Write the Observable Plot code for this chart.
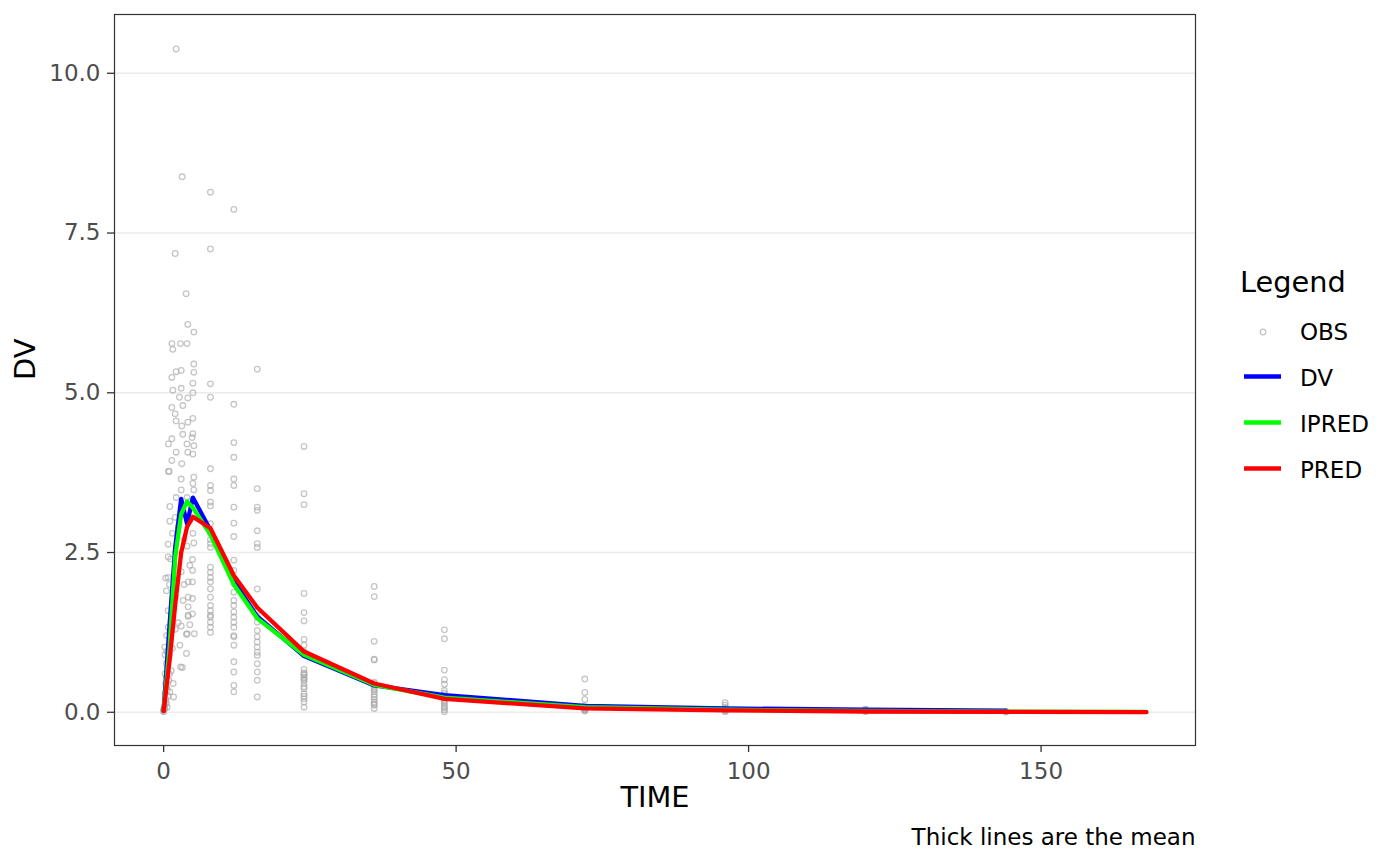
<!DOCTYPE html>
<html>
<head>
<meta charset="utf-8">
<script src="https://cdn.jsdelivr.net/npm/d3@7"></script>
<script src="https://cdn.jsdelivr.net/npm/@observablehq/plot@0.6"></script>
<style>
  body { margin: 0; background: #fff; }
  #wrap { position: relative; width: 1400px; height: 866px; }
  #legend { position: absolute; left: 0; top: 0; pointer-events: none; }
</style>
</head>
<body>
<div id="wrap">
  <div id="chart"></div>
  <svg id="legend" width="1400" height="866"></svg>
</div>
<script>
// ---------------------------------------------------------------
//  Observations (grey open circles)
// ---------------------------------------------------------------
// absorption phase, actual sampling times
const earlyTime = [
  2.14, 3.16, 1.97, 3.85, 4.13, 5.16, 1.4, 1.57, 2.87, 4.0, 5.16, 2.14, 3.0, 5.16, 1.4,
  5.0, 1.57, 3.0, 5.0, 2.7, 4.13, 1.4, 3.28, 1.97, 5.0, 2.14, 3.1, 4.13, 5.0, 3.28,
  4.87, 1.4, 4.0, 5.16, 0.82, 2.14, 4.13, 5.0, 1.4, 3.1, 0.82, 0.95, 3.0, 5.16, 5.0,
  3.0, 5.16, 2.14, 4.0,
  1.06, 1.06, 0.77, 0.77, 5.16, 4.93, 4.47, 4.93, 4.19, 4.93, 0.77, 4.19, 4.93, 3.33,
  4.19, 4.93, 4.19, 4.02, 3.9, 5.24, 3.9, 2.77, 2.9, 0.48, 1.62, 1.06, 1.7, 0.48, 0.6,
  0.2, 0.48, 0.2, 0.77, 0.77, 0.48, 0.34, 4.19, 4.47,
  2.0, 2.5, 3.5, 4.5, 5.0, 4.0, 1.5, 2.0, 3.0, 4.5, 1.2, 1.0, 1.5, 1.2, 2.0, 3.0, 3.5,
  2.5, 0.5, 0.25, 0.25, 0.5, 1.0, 0.3, 0.1, 0.15, 0.75, 1.0, 1.5, 2.0, 0.25, 0, 0, 0,
  3.0, 3.2, 0.6, 0.4, 0.9, 0.35, 0.55, 1.3
];
const earlyDV = [
  10.38, 8.38, 7.18, 6.55, 6.07, 5.95, 5.77, 5.68, 5.77, 5.77, 5.45, 5.33, 5.35, 5.32, 5.24,
  5.15, 5.04, 5.07, 5.0, 4.93, 4.92, 4.77, 4.80, 4.67, 4.60, 4.56, 4.48, 4.54, 4.36, 4.35,
  4.30, 4.28, 4.20, 4.17, 4.20, 4.07, 4.07, 4.04, 3.94, 3.89, 3.77, 3.77, 3.65, 3.68, 3.58,
  3.48, 3.48, 3.36, 3.36,
  3.22, 2.99, 2.63, 2.43, 2.65, 2.39, 2.30, 2.22, 2.04, 2.04, 2.11, 1.80, 1.78, 1.75,
  1.65, 1.54, 1.52, 1.23, 1.22, 1.23, 0.92, 1.05, 0.71, 0.55, 0.45, 0.32, 0.24, 0.14, 0.08,
  0.06, 0.76, 1.02, 1.33, 1.59, 1.90, 2.10, 1.50, 1.37,
  3.05, 2.90, 2.70, 3.00, 2.80, 2.60, 2.80, 2.50, 3.20, 3.30, 2.40, 2.00, 1.60, 1.20, 1.80, 2.20, 2.00,
  1.40, 1.20, 0.60, 0.30, 0.40, 0.90, 0.15, 0.05, 0.10, 0.25, 0.60, 1.00, 1.30, 0.90, 0.02, 0.05, 0.01,
  1.35, 0.70, 0.35, 0.20, 0.50, 0.45, 0.95, 0.65
];

// later samples at nominal times
const obsAt8   = [8.14, 7.25, 5.14, 4.93, 3.81, 3.55, 3.47, 3.29, 3.23, 2.95, 2.80, 2.70, 2.64, 2.58,
                  2.27, 2.19, 2.11, 2.04, 1.93, 1.80, 1.67, 1.59, 1.52, 1.49, 1.41, 1.33, 1.25];
const obsAt12  = [7.87, 4.82, 4.22, 3.99, 3.65, 3.55, 3.21, 2.96, 2.75, 2.38, 2.22, 2.01, 1.88, 1.75,
                  1.67, 1.57, 1.49, 1.41, 1.33, 1.20, 1.18, 1.05, 0.79, 0.63, 0.42, 0.32];
const obsAt16  = [5.37, 3.50, 3.21, 3.16, 2.84, 2.64, 2.58, 1.93, 1.59, 1.49, 1.41, 1.28, 1.18, 1.10,
                  1.02, 0.94, 0.89, 0.76, 0.63, 0.50, 0.24];
const obsAt24  = [4.16, 3.42, 3.25, 1.86, 1.56, 1.43, 1.14, 1.05, 0.95, 0.67, 0.62, 0.60, 0.58, 0.55,
                  0.52, 0.50, 0.45, 0.40, 0.37, 0.29, 0.25, 0.21, 0.16, 0.08];
const obsAt36  = [1.97, 1.81, 1.11, 0.83, 0.82, 0.47, 0.45, 0.42, 0.38, 0.35, 0.32, 0.28, 0.24, 0.20,
                  0.16, 0.13, 0.11, 0.06];
const obsAt48  = [1.29, 1.15, 0.66, 0.51, 0.44, 0.34, 0.30, 0.27, 0.24, 0.20, 0.17, 0.14, 0.10, 0.07,
                  0.04, 0.01];
const obsAt72  = [0.52, 0.31, 0.20, 0.10, 0.08, 0.06, 0.05, 0.04, 0.03, 0.02];
const obsAt96  = [0.15, 0.11, 0.07, 0.05, 0.03, 0.02, 0.01];
const obsAt120 = [0.05, 0.04, 0.03, 0.02, 0.01];
const obsAt144 = [0.01, 0.005];

// ---------------------------------------------------------------
//  Mean curves (thick lines)
// ---------------------------------------------------------------
const dvTime    = [0, 1, 2, 3, 4, 5, 8, 12, 16, 24, 36, 48, 72, 96, 120, 144];
const dvMean    = [0.03, 1.35, 2.6, 3.34, 2.95, 3.36, 2.85, 2.05, 1.5, 0.88, 0.42, 0.27, 0.1, 0.06, 0.04, 0.025];
const predTime  = [0, 1, 2, 3, 4, 5, 8, 12, 16, 24, 36, 48, 72, 96, 120, 144, 168];
const ipredMean = [0.03, 1.0, 2.45, 3.1, 3.3, 3.2, 2.78, 2.0, 1.47, 0.9, 0.43, 0.23, 0.08, 0.04, 0.02, 0.01, 0.005];
const predMean  = [0.02, 0.8, 1.7, 2.5, 2.9, 3.06, 2.88, 2.14, 1.64, 0.95, 0.45, 0.21, 0.06, 0.03, 0.012, 0.005, 0.002];

const xTicks = [0, 50, 100, 150];
const yTicks = [0, 2.5, 5, 7.5, 10];

const LEGEND = [
  { key: "OBS",   color: "#a8a8a8", kind: "dot"  },
  { key: "DV",    color: "#0000ff", kind: "line" },
  { key: "IPRED", color: "#00ff00", kind: "line" },
  { key: "PRED",  color: "#ff0000", kind: "line" }
];

const FONT = "DejaVu Sans, sans-serif";

// ---------------------------------------------------------------
//  Tables for Plot
// ---------------------------------------------------------------
const obs = earlyTime.map((t, i) => ({ time: t, dv: earlyDV[i] }));
[[8, obsAt8], [12, obsAt12], [16, obsAt16], [24, obsAt24], [36, obsAt36], [48, obsAt48],
 [72, obsAt72], [96, obsAt96], [120, obsAt120], [144, obsAt144]].forEach(([t, vals]) => {
  vals.forEach(v => obs.push({ time: t, dv: v }));
});

const dvLine    = dvTime.map((t, i) => ({ time: t, value: dvMean[i] }));
const ipredLine = predTime.map((t, i) => ({ time: t, value: ipredMean[i] }));
const predLine  = predTime.map((t, i) => ({ time: t, value: predMean[i] }));

// ---------------------------------------------------------------
//  Chart
// ---------------------------------------------------------------
const chart = Plot.plot({
  width: 1400,
  height: 866,
  marginLeft: 114,
  marginRight: 205,
  marginTop: 14,
  marginBottom: 121,
  style: { fontFamily: FONT, fontSize: "23px", background: "#fff", overflow: "visible" },
  x: { domain: [-8.4, 176.4], label: null },
  y: { domain: [-0.52, 10.92], label: null },
  marks: [
    Plot.gridY(yTicks, { stroke: "#ebebeb", strokeOpacity: 1, strokeWidth: 1.5 }),
    Plot.dot(obs, {
      x: "time", y: "dv", r: 2.8, fill: "none",
      stroke: "#a8a8a8", strokeOpacity: 0.65, strokeWidth: 1.3
    }),
    Plot.line(dvLine,    { x: "time", y: "value", stroke: "#0000ff", strokeWidth: 4.3 }),
    Plot.line(ipredLine, { x: "time", y: "value", stroke: "#00ff00", strokeWidth: 4.3 }),
    Plot.line(predLine,  { x: "time", y: "value", stroke: "#ff0000", strokeWidth: 4.3 }),
    Plot.frame({ stroke: "#333", strokeWidth: 1.2 }),
    Plot.axisX({ ticks: xTicks, tickSize: 7, tickPadding: 10, stroke: "#333", strokeWidth: 1.3,
                 fill: "#4d4d4d", label: null }),
    Plot.axisY({ ticks: yTicks, tickSize: 7, tickPadding: 7, stroke: "#333", strokeWidth: 1.3,
                 fill: "#4d4d4d", tickFormat: d => d.toFixed(1), label: null }),
    Plot.text(["TIME"], { frameAnchor: "bottom", dy: 61, fontSize: 28.8, fill: "#000" }),
    Plot.text(["DV"], { frameAnchor: "left", dx: -89, rotate: -90, fontSize: 28.8, fill: "#000" }),
    Plot.text(["Thick lines are the mean"], {
      frameAnchor: "bottom-right", dy: 99, textAnchor: "end", fontSize: 23, fill: "#000"
    })
  ]
});
document.getElementById("chart").appendChild(chart);

// ---------------------------------------------------------------
//  Legend (right of the panel)
// ---------------------------------------------------------------
const lg = d3.select("#legend").style("font-family", FONT);

lg.append("text")
  .attr("x", 1240)
  .attr("y", 292)
  .attr("font-size", 28.8)
  .attr("fill", "#000")
  .text("Legend");

LEGEND.forEach((d, i) => {
  const cy = 332 + i * 46;
  if (d.kind === "dot") {
    lg.append("circle")
      .attr("cx", 1263).attr("cy", cy).attr("r", 2.8)
      .attr("fill", "none").attr("stroke", d.color).attr("stroke-opacity", 0.65)
      .attr("stroke-width", 1.3);
  } else {
    lg.append("line")
      .attr("x1", 1244).attr("x2", 1281).attr("y1", cy - 1.5).attr("y2", cy - 1.5)
      .attr("stroke", d.color).attr("stroke-width", 4.3);
  }
  lg.append("text")
    .attr("x", 1300)
    .attr("y", cy + 8)
    .attr("font-size", 23)
    .attr("fill", "#000")
    .text(d.key);
});
</script>
</body>
</html>
